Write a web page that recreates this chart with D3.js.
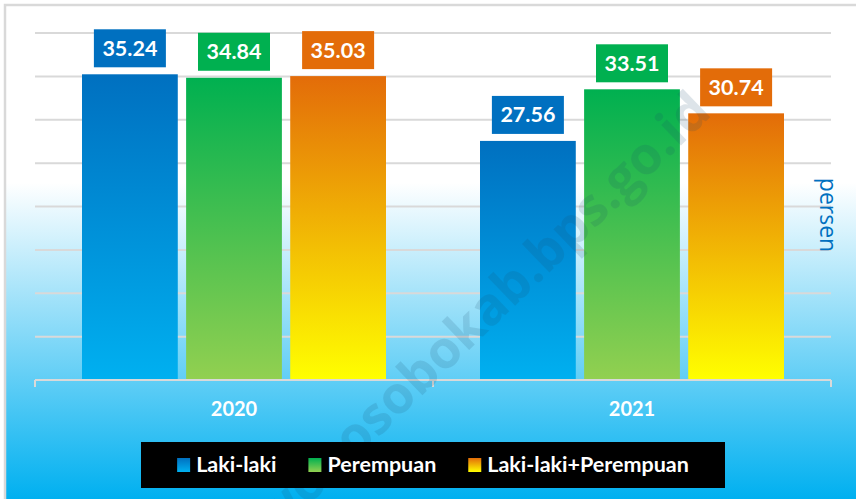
<!DOCTYPE html>
<html>
<head>
<meta charset="utf-8">
<script src="https://cdn.jsdelivr.net/npm/d3@7"></script>
<style>
  body { margin: 0; background: #fff; }
  svg { display: block; }
</style>
</head>
<body>
<div id="chart"></div>
<script>
// Data
const years = ['2020', '2021']
const series = ['Laki-laki', 'Perempuan', 'Laki-laki+Perempuan']
const lakiLaki = [35.24, 27.56]
const perempuan = [34.84, 33.51]
const total = [35.03, 30.74]
const yTicks = [0, 5, 10, 15, 20, 25, 30, 35, 40]

const values = [lakiLaki, perempuan, total]

// Colours per series: top of gradient, bottom of gradient
const topColors = ['#0070C0', '#00B050', '#E36C09']
const bottomColors = ['#00B0F0', '#92D050', '#FFFF00']

const w = 856
const h = 499

const svg = d3.select('#chart').append('svg')
  .attr('width', w)
  .attr('height', h)

const defs = svg.append('defs')

// Chart background gradient
const bg = defs.append('linearGradient')
  .attr('id', 'bg')
  .attr('x1', 0).attr('y1', 0).attr('x2', 0).attr('y2', 1)
bg.append('stop').attr('offset', '0%').attr('stop-color', '#ffffff')
bg.append('stop').attr('offset', '36%').attr('stop-color', '#ffffff')
bg.append('stop').attr('offset', '100%').attr('stop-color', '#00B0F0')

// Bar gradients
series.forEach((s, i) => {
  const g = defs.append('linearGradient')
    .attr('id', 'grad' + i)
    .attr('x1', 0).attr('y1', 0).attr('x2', 0).attr('y2', 1)
  g.append('stop').attr('offset', '0%').attr('stop-color', topColors[i])
  g.append('stop').attr('offset', '100%').attr('stop-color', bottomColors[i])
})

// Background and border
svg.append('rect')
  .attr('x', 5).attr('y', 5)
  .attr('width', w - 5).attr('height', h - 5)
  .attr('fill', 'url(#bg)')
svg.append('path')
  .attr('d', `M5,${h} V5 H${w}`)
  .attr('fill', 'none')
  .attr('stroke', '#D9D9D9')
  .attr('stroke-width', 2.5)

// Scales
const x0 = d3.scaleBand()
  .domain(years)
  .range([35, 831])

const x1 = d3.scaleBand()
  .domain(series)
  .range([47, x0.bandwidth() - 47])
  .paddingInner(0.08)

const y = d3.scaleLinear()
  .domain([0, 40])
  .range([380, 33])

// Gridlines
svg.append('g')
  .selectAll('line')
  .data(yTicks.filter(d => d > 0))
  .enter()
  .append('line')
  .attr('x1', 35)
  .attr('x2', 831)
  .attr('y1', d => y(d))
  .attr('y2', d => y(d))
  .attr('stroke', '#D9D9D9')
  .attr('stroke-width', 2)

// Bars
const groups = svg.append('g')
  .selectAll('g')
  .data(years)
  .enter()
  .append('g')
  .attr('transform', d => `translate(${x0(d)},0)`)

groups.selectAll('rect')
  .data((d, yi) => series.map((s, si) => ({ s, si, v: values[si][yi] })))
  .enter()
  .append('rect')
  .attr('x', d => x1(d.s))
  .attr('y', d => y(d.v))
  .attr('width', x1.bandwidth())
  .attr('height', d => y(0) - y(d.v))
  .attr('fill', d => `url(#grad${d.si})`)

// Value labels
const labels = groups.selectAll('g.label')
  .data((d, yi) => series.map((s, si) => ({ s, si, v: values[si][yi] })))
  .enter()
  .append('g')
  .attr('class', 'label')
  .attr('transform', d => `translate(${x1(d.s) + x1.bandwidth() / 2},${y(d.v) - 7})`)

labels.append('rect')
  .attr('x', -36)
  .attr('y', -38)
  .attr('width', 72)
  .attr('height', 38)
  .attr('fill', d => topColors[d.si])

labels.append('text')
  .attr('y', -11.5)
  .attr('text-anchor', 'middle')
  .style('font-family', 'Lato, "Open Sans", sans-serif')
  .style('font-weight', 'bold')
  .style('font-size', '21.5px')
  .attr('fill', '#fff')
  .text(d => d.v.toFixed(2))

// X axis
const xAxis = d3.axisBottom(x0)
  .tickSize(0)
  .tickPadding(22)

const axis = svg.append('g')
  .attr('transform', 'translate(0,380)')
  .call(xAxis)

axis.select('.domain').remove()
axis.append('line')
  .attr('x1', 35).attr('x2', 831)
  .attr('stroke', '#D9D9D9').attr('stroke-width', 2)
axis.selectAll('line.sep')
  .data([35, x0('2021'), 831])
  .enter()
  .append('line')
  .attr('class', 'sep')
  .attr('x1', d => d).attr('x2', d => d)
  .attr('y1', 0).attr('y2', 7)
  .attr('stroke', '#D9D9D9').attr('stroke-width', 2)

axis.selectAll('.tick text')
  .style('font-family', 'Lato, "Open Sans", sans-serif')
  .style('font-weight', 'bold')
  .style('font-size', '20px')
  .attr('fill', '#fff')

// Y axis title
svg.append('text')
  .attr('transform', 'translate(820,215) rotate(90)')
  .attr('text-anchor', 'middle')
  .style('font-family', '"Open Sans", sans-serif')
  .style('font-size', '23px')
  .attr('fill', '#0070C0')
  .text('persen')

// Watermark (runs off the bottom edge, as in the source)
svg.append('text')
  .attr('transform', 'translate(494,326) rotate(-44)')
  .attr('text-anchor', 'middle')
  .style('font-family', '"Open Sans", sans-serif')
  .style('font-weight', 'bold')
  .style('font-size', '52px')
  .attr('fill', '#1a4a6a')
  .attr('opacity', 0.14)
  .text('wonosobokab.bps.go.id')

// Legend
const legend = svg.append('g')
legend.append('rect')
  .attr('x', 141).attr('y', 442)
  .attr('width', 584).attr('height', 46)
  .attr('fill', '#000')

const items = legend.selectAll('g.item')
  .data(series)
  .enter()
  .append('g')
  .attr('class', 'item')

items.append('rect')
  .attr('y', 458)
  .attr('width', 13)
  .attr('height', 14)
  .attr('fill', (d, i) => `url(#grad${i})`)

items.append('text')
  .attr('y', 472)
  .attr('x', 19)
  .style('font-family', 'Lato, "Open Sans", sans-serif')
  .style('font-weight', 'bold')
  .style('font-size', '21.5px')
  .attr('fill', '#fff')
  .text(d => d)

// Lay items out side by side, centred in the box
let cx = 0
const offsets = []
items.each(function () {
  offsets.push(cx)
  cx += this.getBBox().width + 32
})
const start = 141 + (584 - (cx - 32)) / 2
items.attr('transform', (d, i) => `translate(${start + offsets[i]},0)`)
</script>
</body>
</html>
